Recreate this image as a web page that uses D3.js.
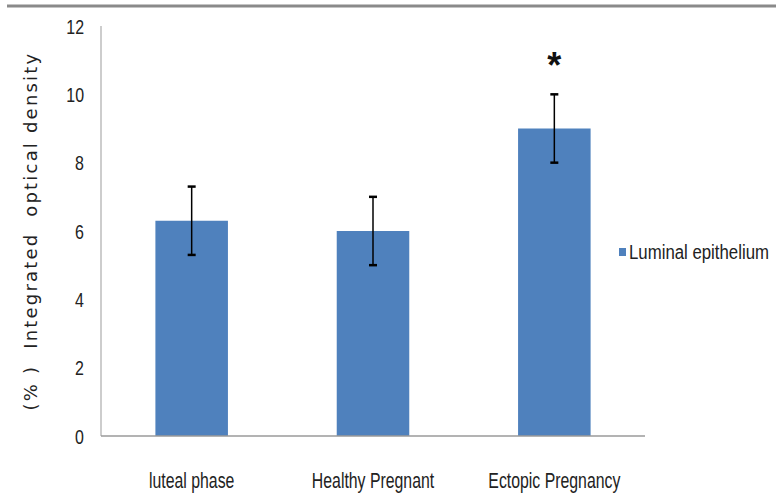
<!DOCTYPE html>
<html>
<head>
<meta charset="utf-8">
<script src="https://cdn.jsdelivr.net/npm/d3@7"></script>
<style>
  body { margin: 0; background: #fff; }
  svg { display: block; }
</style>
</head>
<body>
<div id="chart"></div>
<script>
const width = 776;
const height = 502;

// data
const categories = ["luteal phase", "Healthy Pregnant", "Ectopic Pregnancy"];
const values = [6.3, 6.0, 9.0];
const errors = [1.0, 1.0, 1.0];
const marks = ["", "", "*"];
const yTicks = [0, 2, 4, 6, 8, 10, 12];
const seriesName = "Luminal epithelium";

const margin = { top: 26, left: 101, right: 131, bottom: 66 };
const font = "'Liberation Sans', Arial, sans-serif";

const svg = d3.select("#chart")
    .append("svg")
    .attr("width", width)
    .attr("height", height);

// top border line
svg.append("line")
    .attr("x1", 7).attr("x2", width)
    .attr("y1", 6).attr("y2", 6)
    .attr("stroke", "#8a8a8a")
    .attr("stroke-width", 3);

const x = d3.scaleBand()
    .domain(categories)
    .range([margin.left, width - margin.right])
    .paddingInner(0.6)
    .paddingOuter(0.3);

const y = d3.scaleLinear()
    .domain([0, 12])
    .range([height - margin.bottom, margin.top]);

// y axis line + labels (condensed look via scaleX)
svg.append("line")
    .attr("x1", margin.left).attr("x2", margin.left)
    .attr("y1", y(12)).attr("y2", y(0))
    .attr("stroke", "#bdbdbd")
    .attr("stroke-width", 1.5);

svg.selectAll(".ytick")
    .data(yTicks)
    .enter()
    .append("g")
    .attr("class", "ytick")
    .attr("transform", d => `translate(84,${y(d)}) scale(0.76,1)`)
    .append("text")
    .attr("dy", "0.36em")
    .attr("text-anchor", "end")
    .style("font-family", font)
    .style("font-size", "21px")
    .style("fill", "#222")
    .text(d => d);

// bars
svg.selectAll(".bar")
    .data(values)
    .enter()
    .append("rect")
    .attr("class", "bar")
    .attr("x", (d, i) => x(categories[i]))
    .attr("width", x.bandwidth())
    .attr("y", d => y(d))
    .attr("height", d => y(0) - y(d))
    .attr("fill", "#4f81bd");

// x axis baseline
svg.append("line")
    .attr("x1", margin.left).attr("x2", width - margin.right)
    .attr("y1", y(0)).attr("y2", y(0))
    .attr("stroke", "#9a9a9a")
    .attr("stroke-width", 1.5);

// error bars
const err = svg.selectAll(".err")
    .data(values)
    .enter()
    .append("g")
    .attr("class", "err")
    .attr("transform", (d, i) => `translate(${x(categories[i]) + x.bandwidth() / 2},0)`);

err.append("line")
    .attr("y1", (d, i) => y(d + errors[i]))
    .attr("y2", (d, i) => y(d - errors[i]))
    .attr("stroke", "#000")
    .attr("stroke-width", 1.5);

err.selectAll(".cap")
    .data((d, i) => [d + errors[i], d - errors[i]])
    .enter()
    .append("line")
    .attr("x1", -4).attr("x2", 4)
    .attr("y1", d => y(d)).attr("y2", d => y(d))
    .attr("stroke", "#000")
    .attr("stroke-width", 2.5);

// significance marks
svg.selectAll(".mark")
    .data(values)
    .enter()
    .append("text")
    .attr("class", "mark")
    .attr("x", (d, i) => x(categories[i]) + x.bandwidth() / 2)
    .attr("y", (d, i) => y(d + errors[i]) - 16)
    .attr("text-anchor", "middle")
    .style("font-family", font)
    .style("font-size", "36px")
    .style("font-weight", "bold")
    .style("fill", "#111")
    .text((d, i) => marks[i]);

// x labels
svg.selectAll(".xlab")
    .data(categories)
    .enter()
    .append("g")
    .attr("class", "xlab")
    .attr("transform", d => `translate(${x(d) + x.bandwidth() / 2},480) scale(0.72,1)`)
    .append("text")
    .attr("dy", "0.35em")
    .attr("text-anchor", "middle")
    .style("font-family", font)
    .style("font-size", "22px")
    .style("fill", "#222")
    .text(d => d);

// y title
svg.append("text")
    .attr("transform", `translate(31,231) rotate(-90)`)
    .attr("text-anchor", "middle")
    .attr("dy", "0.35em")
    .style("font-family", "'DejaVu Sans', Verdana, sans-serif")
    .style("font-size", "18px")
    .style("letter-spacing", "2.2px")
    .style("fill", "#222")
    .style("white-space", "pre")
    .text("(% )  Integrated  optical density");

// legend
const legend = svg.append("g")
    .attr("transform", "translate(619,248)");

legend.append("rect")
    .attr("width", 7)
    .attr("height", 8)
    .attr("fill", "#4f81bd");

legend.append("g")
    .attr("transform", "translate(10,4) scale(0.8,1)")
    .append("text")
    .attr("dy", "0.35em")
    .style("font-family", font)
    .style("font-size", "21px")
    .style("fill", "#222")
    .text(seriesName);
</script>
</body>
</html>
